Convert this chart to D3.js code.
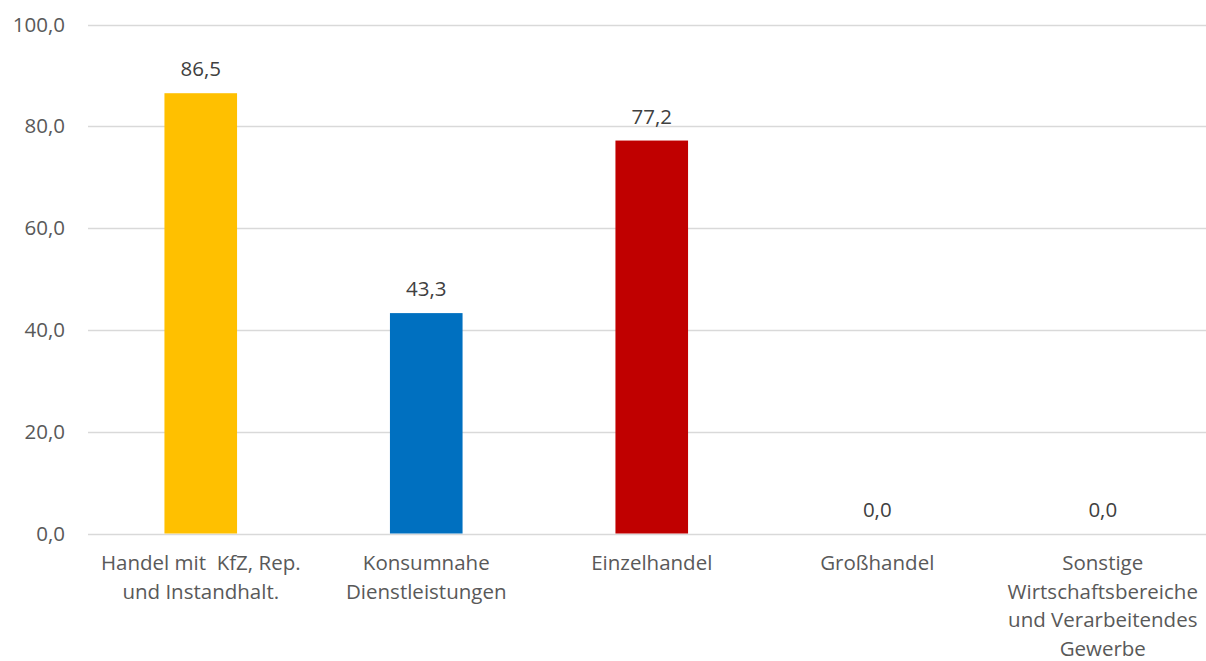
<!DOCTYPE html>
<html>
<head>
<meta charset="utf-8">
<script src="https://cdn.jsdelivr.net/npm/d3@7"></script>
<style>
  body { margin: 0; background: #fff; }
  text { font-family: "Open Sans", sans-serif; }
</style>
</head>
<body>
<div id="chart"></div>
<script>
var categories = [
  ["Handel mit  KfZ, Rep.", "und Instandhalt."],
  ["Konsumnahe", "Dienstleistungen"],
  ["Einzelhandel"],
  ["Großhandel"],
  ["Sonstige", "Wirtschaftsbereiche", "und Verarbeitendes", "Gewerbe"]
];
var values = [86.5, 43.3, 77.2, 0.0, 0.0];
var colors = ["#FFC000", "#0070C0", "#C00000", "#A5A5A5", "#5B9BD5"];
var yTicks = [0, 20, 40, 60, 80, 100];

var svgWidth = 1206;
var svgHeight = 661;
var margin = { top: 24.5, left: 88 };
var plotRight = 1215.5;
var plotBottom = 533.5;
var fontSize = 20.5;

var svg = d3.select("#chart")
  .append("svg")
  .attr("width", svgWidth)
  .attr("height", svgHeight);

var fmt = function(v) { return d3.format(".1f")(v).replace(".", ","); };

var x = d3.scaleBand()
  .domain(d3.range(categories.length))
  .range([margin.left, plotRight])
  .paddingInner(0.678)
  .paddingOuter(0.339);

var y = d3.scaleLinear()
  .domain([0, 100])
  .range([plotBottom, margin.top]);

// gridlines
svg.append("g")
  .selectAll("line")
  .data(yTicks)
  .enter()
  .append("line")
  .attr("x1", margin.left)
  .attr("x2", plotRight)
  .attr("y1", d => Math.round(y(d)) + 0.5)
  .attr("y2", d => Math.round(y(d)) + 0.5)
  .attr("stroke", "#D9D9D9")
  .attr("stroke-width", 1.5);

// y tick labels
var leftAxis = d3.axisLeft(y).tickValues(yTicks).tickFormat(fmt).tickSize(0).tickPadding(0);
var yAxis = svg.append("g")
  .attr("transform", "translate(65,0)")
  .call(leftAxis);
yAxis.select(".domain").remove();
yAxis.selectAll("text")
  .attr("font-size", fontSize)
  .attr("font-family", "'Open Sans', sans-serif")
  .attr("fill", "#595959");

// bars
svg.append("g")
  .selectAll("rect")
  .data(values)
  .enter()
  .append("rect")
  .attr("x", (d, i) => x(i))
  .attr("y", d => y(d))
  .attr("width", x.bandwidth())
  .attr("height", d => y(0) - y(d))
  .attr("fill", (d, i) => colors[i]);

// value labels
svg.append("g")
  .selectAll("text")
  .data(values)
  .enter()
  .append("text")
  .attr("x", (d, i) => x(i) + x.bandwidth() / 2)
  .attr("y", d => y(d) - 17)
  .attr("text-anchor", "middle")
  .attr("font-size", fontSize)
  .attr("fill", "#404040")
  .text(d => fmt(d));

// category labels
var catGroups = svg.append("g")
  .selectAll("text")
  .data(categories)
  .enter()
  .append("text")
  .attr("text-anchor", "middle")
  .attr("font-size", fontSize)
  .attr("fill", "#595959")
  .style("white-space", "pre");

catGroups.selectAll("tspan")
  .data((d, i) => d.map(line => ({ line: line, i: i })))
  .enter()
  .append("tspan")
  .attr("x", d => x(d.i) + x.bandwidth() / 2)
  .attr("y", (d, j) => 570 + j * 28.7)
  .text(d => d.line);
</script>
</body>
</html>
